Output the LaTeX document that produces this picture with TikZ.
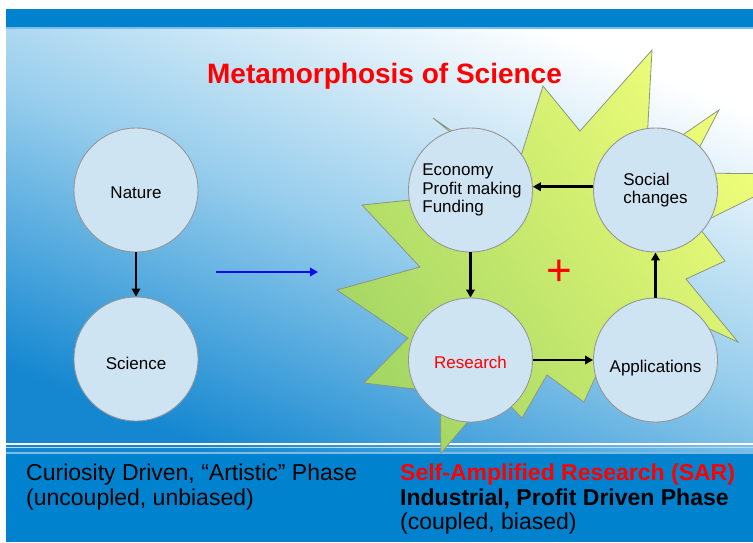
\documentclass[tikz,border=0pt]{standalone}
\usepackage{fontspec}
\setmainfont{Liberation Sans}
\usetikzlibrary{arrows.meta}
\definecolor{bandblue}{RGB}{0,130,206}
\definecolor{bandline}{RGB}{120,190,232}
\definecolor{bgdark}{RGB}{20,135,208}
\definecolor{bgmid}{RGB}{150,205,236}
\definecolor{bubfill}{RGB}{207,228,242}
\definecolor{bubline}{RGB}{150,150,150}
\definecolor{staryel}{RGB}{242,255,122}
\definecolor{stargrn}{RGB}{165,215,100}
\definecolor{starline}{RGB}{140,150,130}
\definecolor{arrblue}{RGB}{10,10,250}
\definecolor{tred}{RGB}{255,0,0}
\begin{document}
\begin{tikzpicture}[x=1pt,y=-1pt,
  bub/.style={circle,draw=bubline,line width=0.9pt,fill=bubfill,minimum size=124pt,
    inner sep=0pt,align=center,font=\fontsize{17}{18.3}\selectfont},
  arr/.style={line width=2.6pt,-{Triangle[length=8pt,width=8.5pt]}},
  bigtxt/.style={font=\fontsize{23}{24.5}\selectfont,anchor=base west,inner sep=0pt}]
\useasboundingbox (0,0) rectangle (753,542);
\fill[white] (0,0) rectangle (753,542);
% top banner
\fill[bandblue] (6,9) rectangle (753,27);
\fill[bandline] (6,27) rectangle (753,29);
% background gradient
\shade[bottom color=bgdark, top color=white, middle color=bgmid, shading angle=-22]
  (6,29) rectangle (753,452);
% light lines above lower band
\fill[white] (6,443.3) rectangle (753,444.8);
\fill[white!70!bgdark] (6,446.5) rectangle (753,447.6);
% lower band
\fill[bandblue] (6,452) rectangle (753,542);
\fill[bandline] (6,452) rectangle (753,453.5);
% starburst
\begin{scope}
\clip (6,29) rectangle (753,456);
\shadedraw[draw=starline, line width=0.8pt, bottom color=stargrn, top color=staryel, shading angle=-55]
  (652,50) -- (646,160) -- (719,110) -- (686,173) -- (800,174) -- (697,225) -- (725,261)
  -- (686,279) -- (738,342) -- (690,320) -- (610,345) -- (584,402) -- (547,375)
  -- (522,418) -- (495,390) -- (441,453) -- (440,392) -- (364,383) -- (408,338)
  -- (337,290) -- (420,267) -- (362,205) -- (440,197) -- (460,140) -- (433,118)
  -- (515,175) -- (543,86) -- (580,131) -- cycle;
\end{scope}
% title
\node[font=\bfseries\fontsize{28}{30}\selectfont, text=tred, anchor=base, inner sep=0pt]
  (title) at (384.5,83.3) {Metamorphosis of Science};
% left circles
\node[bub] (nature) at (136,190) {\rule{0pt}{16.3pt}Nature};
\node[bub] (science) at (136,359) {\rule{0pt}{20.3pt}Science};
\draw[arr] (nature.south) -- (science.north);
% transition arrow
\coordinate (ta) at (216,272);
\coordinate (tb) at (318,272);
\draw[arr, line width=2.4pt, arrblue] (ta) -- (tb);
% right circles
\node[bub, align=left] (eco) at (470.5,190) {\hspace*{3pt}Economy\\\hspace*{3pt}Profit making\\\hspace*{3pt}Funding};
\node[bub, align=left] (soc) at (655.5,190) {Social\\changes};
\node[bub, text=tred] (res) at (470.5,360) {\rule{0pt}{17.5pt}Research};
\node[bub] (app) at (655.5,360) {\rule{0pt}{28.5pt}Applications};
\draw[arr] (soc.177) -- (eco.3);
\draw[arr] (eco.south) -- (res.north);
\draw[arr] (res.east) -- (app.west);
\draw[arr] (app.north) -- (soc.south);
\node[font=\fontsize{44}{44}\selectfont, text=tred, inner sep=0pt] (plus) at (559,273) {+};
% bottom texts
\node[bigtxt] (l1) at (26,480.7) {Curiosity Driven, “Artistic” Phase};
\node[bigtxt] (l2) at (26,505) {(uncoupled, unbiased)};
\node[bigtxt, font=\bfseries\fontsize{23}{24.5}\selectfont, text=tred] (r1) at (400,480.7) {Self-Amplified Research (SAR)};
\node[bigtxt, font=\bfseries\fontsize{23}{24.5}\selectfont] (r2) at (400,505) {Industrial, Profit Driven Phase};
\node[bigtxt] (r3) at (400,529.5) {(coupled, biased)};
\end{tikzpicture}
\end{document}
